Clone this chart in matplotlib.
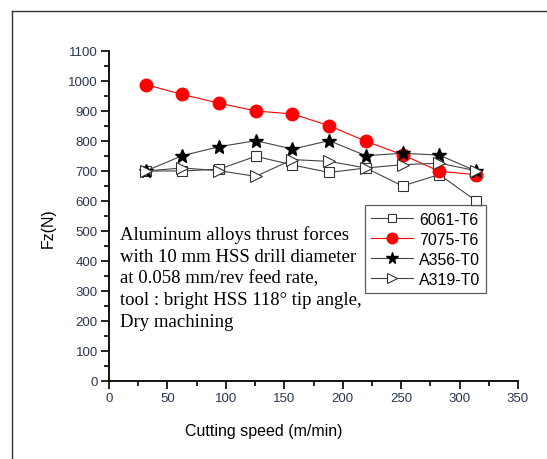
import matplotlib
matplotlib.use("Agg")
import matplotlib.pyplot as plt
from matplotlib.lines import Line2D
from matplotlib.ticker import MultipleLocator

speed = [31.4, 62.8, 94.2, 125.6, 157.0, 188.4, 219.8, 251.2, 282.6, 314.0]
fz_6061 = [700, 700, 706, 749, 720, 695, 710, 650, 688, 601]
fz_7075 = [988, 955, 926, 900, 890, 851, 799, 754, 699, 688]
fz_a356 = [700, 751, 781, 801, 773, 801, 751, 759, 753, 700]
fz_a319 = [700, 710, 701, 682, 738, 732, 710, 721, 726, 701]

note = ("Aluminum alloys thrust forces\n"
        "with 10 mm HSS drill diameter\n"
        "at 0.058 mm/rev feed rate,\n"
        "tool : bright HSS 118\u00b0 tip angle,\n"
        "Dry machining")

tick_color = '#2b3550'

fig = plt.figure(figsize=(5.47, 4.6), dpi=100)
ax = fig.add_axes([0.1993, 0.1696, 0.7477, 0.7174])

line_col = '#444444'
ax.plot(speed, fz_6061, color=line_col, lw=0.8, marker='s', ms=7,
        mfc='white', mec='#333333', mew=0.8, label='6061-T6')
ax.plot(speed, fz_7075, color='red', lw=0.8, marker='o', ms=9,
        mfc='red', mec='red', label='7075-T6')
ax.plot(speed, fz_a356, color=line_col, lw=0.8, marker='*', ms=10,
        mfc='black', mec='black', label='A356-T0')
ax.plot(speed, fz_a319, color=line_col, lw=0.8, marker='>', ms=9,
        mfc='white', mec='#333333', mew=0.8, label='A319-T0')

ax.set_xlim(0, 350)
ax.set_ylim(0, 1100)
ax.xaxis.set_major_locator(MultipleLocator(50))
ax.xaxis.set_minor_locator(MultipleLocator(25))
ax.yaxis.set_major_locator(MultipleLocator(100))
ax.yaxis.set_minor_locator(MultipleLocator(50))

for s in ['top', 'right']:
    ax.spines[s].set_visible(False)
for s in ['left', 'bottom']:
    ax.spines[s].set_linewidth(1.3)

ax.tick_params(which='major', direction='out', length=6, width=1.2,
               labelsize=9.5, labelcolor=tick_color, pad=2)
ax.tick_params(which='minor', direction='out', length=3.5, width=1.2)
for lab in ax.get_xticklabels() + ax.get_yticklabels():
    lab.set_family('Liberation Sans')

ax.set_xlabel('Cutting speed (m/min)', family='Liberation Sans', fontsize=11.5)
ax.set_ylabel('Fz(N)', family='Liberation Sans', fontsize=11.5)
ax.xaxis.set_label_coords(0.379, -0.128)
ax.yaxis.set_label_coords(-0.13, 0.467)

ax.text(0.027, 0.472, note, transform=ax.transAxes, family='Liberation Serif',
        fontsize=13.5, va='top', ha='left', linespacing=1.36)

leg = ax.legend(loc='upper left', bbox_to_anchor=(0.626, 0.532), frameon=True,
                fancybox=False, edgecolor='#333333',
                prop={'family': 'Liberation Sans', 'size': 11.4},
                handlelength=2.6, labelspacing=0.32, borderpad=0.4,
                handletextpad=0.4, borderaxespad=0)
leg.get_frame().set_linewidth(0.9)
for h in leg.legend_handles:
    h.set_markersize(h.get_markersize() * 0.85)

# outer frame lines (left and top)
fig.add_artist(Line2D([0.022, 0.022], [0.0, 0.974], transform=fig.transFigure,
                      color='#333333', lw=1.0))
fig.add_artist(Line2D([0.022, 1.0], [0.974, 0.974], transform=fig.transFigure,
                      color='#333333', lw=1.0))

fig.savefig('out.png', dpi=100)
